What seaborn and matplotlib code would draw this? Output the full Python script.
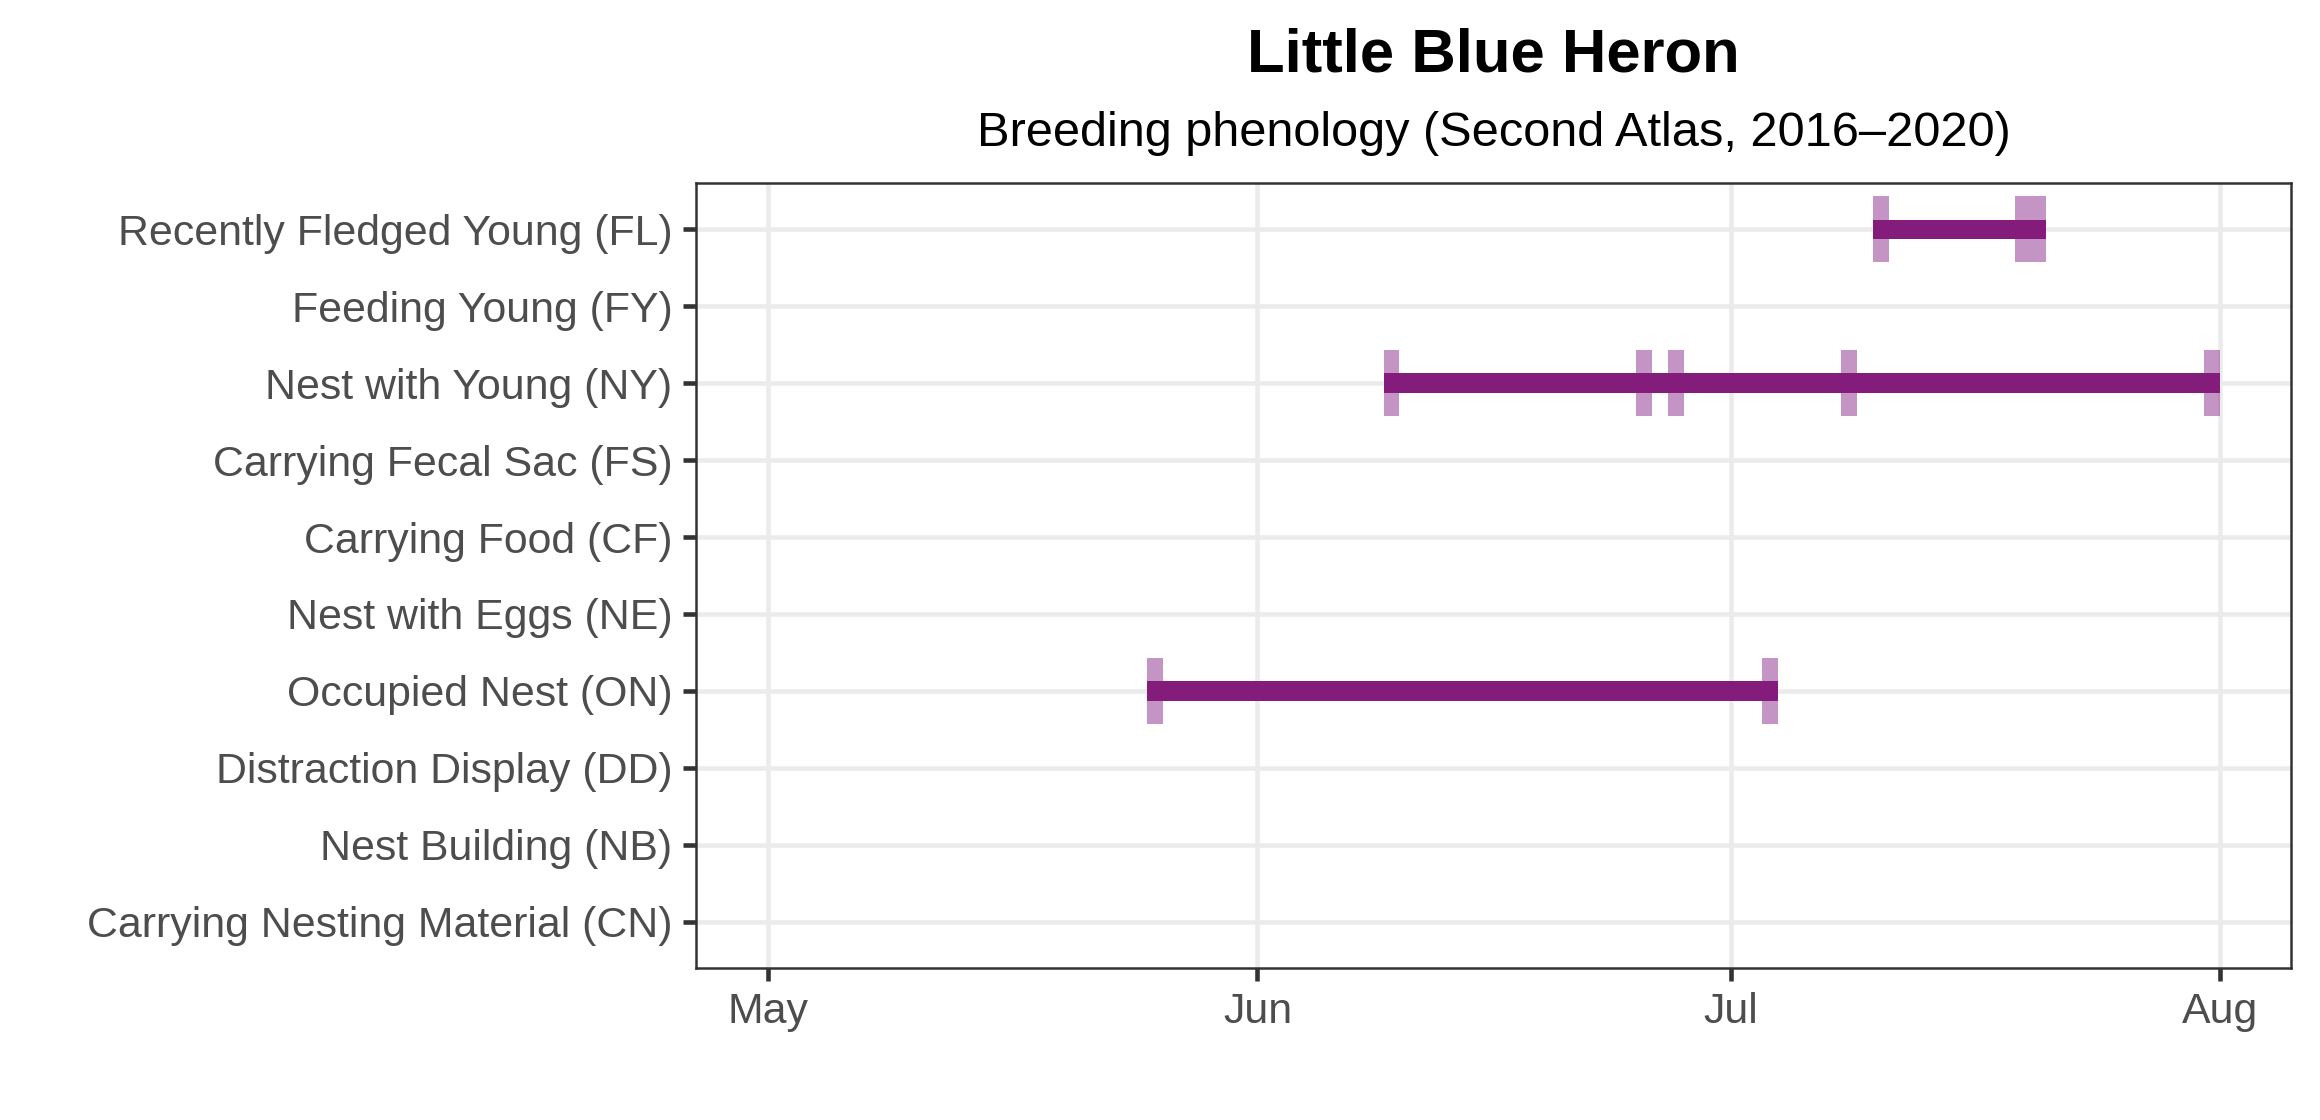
import matplotlib
matplotlib.use("Agg")
import matplotlib.pyplot as plt
import matplotlib.dates as mdates
import numpy as np
import pandas as pd
import seaborn as sns

# ---- data ----
categories = [
    "Recently Fledged Young (FL)",
    "Feeding Young (FY)",
    "Nest with Young (NY)",
    "Carrying Fecal Sac (FS)",
    "Carrying Food (CF)",
    "Nest with Eggs (NE)",
    "Occupied Nest (ON)",
    "Distraction Display (DD)",
    "Nest Building (NB)",
    "Carrying Nesting Material (CN)",
]
fl_dates = ["2019-07-10", "2019-07-19", "2019-07-20"]
ny_dates = ["2019-06-09", "2019-06-25", "2019-06-27", "2019-07-08", "2019-07-31"]
on_dates = ["2019-05-25", "2019-07-03"]
observations = {
    "Recently Fledged Young (FL)": fl_dates,
    "Nest with Young (NY)": ny_dates,
    "Occupied Nest (ON)": on_dates,
}
x_ticks = ["2019-05-01", "2019-06-01", "2019-07-01", "2019-08-01"]
x_tick_labels = ["May", "Jun", "Jul", "Aug"]
x_limits = ["2019-04-26 10:00", "2019-08-05 12:00"]
title = "Little Blue Heron"
subtitle = "Breeding phenology (Second Atlas, 2016\u20132020)"

# ---- style ----
sns.set_theme(style="whitegrid")
plt.rcParams["font.family"] = ["Liberation Sans", "DejaVu Sans"]

fig = plt.figure(figsize=(2320 / 300, 1120 / 300), dpi=300)
ax = fig.add_axes([696 / 2320, 1 - 968 / 1120, (2291 - 696) / 2320, (968 - 183) / 1120])

ypos = {c: i for i, c in enumerate(categories)}
one_day = 1.0

rows = []
for cat, dates in observations.items():
    for d in dates:
        rows.append({"category": cat, "date": pd.Timestamp(d)})
df = pd.DataFrame(rows)
df["x"] = mdates.date2num(df["date"])
df["y"] = df["category"].map(ypos)

# observation ticks
ax.barh(df["y"], width=one_day, left=df["x"], height=0.85, color="#8B2A8B",
        alpha=0.5, linewidth=0, zorder=3, align="center")

# range bars
rng = df.groupby("category").agg(start=("x", "min"), end=("x", "max"), y=("y", "first"))
ax.barh(rng["y"], width=rng["end"] + one_day - rng["start"], left=rng["start"],
        height=0.25, color="#841C7C", linewidth=0, zorder=4, align="center")

ax.set_ylim(len(categories) - 1 + 0.6, -0.6)
ax.set_yticks(range(len(categories)))
ax.set_yticklabels(categories)
ax.set_xlim(mdates.date2num(pd.Timestamp(x_limits[0])), mdates.date2num(pd.Timestamp(x_limits[1])))
ax.set_xticks(mdates.date2num(pd.to_datetime(x_ticks)))
ax.set_xticklabels(x_tick_labels)

ax.set_facecolor("white")
ax.grid(True, color="#EBEBEB", linewidth=1.1, zorder=0)
ax.set_axisbelow(True)
for s in ax.spines.values():
    s.set_visible(True)
    s.set_color("#333333")
    s.set_linewidth(0.6)
    s.set_zorder(6)

ax.tick_params(axis="both", which="major", length=3.2, width=1.1, color="#333333",
               labelcolor="#4D4D4D", labelsize=10.3, pad=2.5, bottom=True, left=True)
ax.set_xlabel("")
ax.set_ylabel("")

cx = (696 + 2291) / 2 / 2320
fig.text(cx, 1 - 56 / 1120, title, ha="center", va="center", fontsize=14.8,
         fontweight="bold", color="black")
fig.text(cx, 1 - 134 / 1120, subtitle, ha="center", va="center", fontsize=11.7,
         color="black")

fig.savefig("out.png", dpi=300, facecolor="white")
